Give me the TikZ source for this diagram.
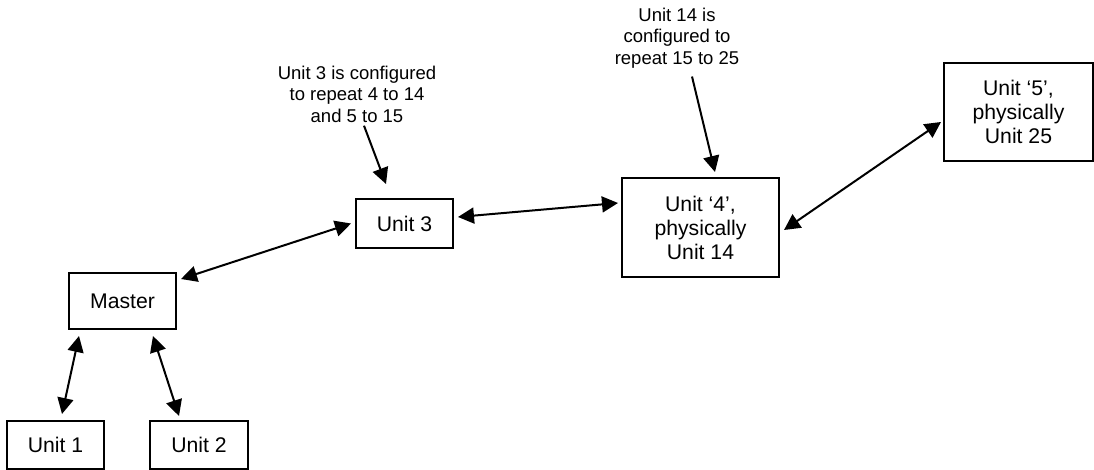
\documentclass[tikz,border=0pt]{standalone}
\usepackage{fontspec}
\setmainfont{Liberation Sans}
\usetikzlibrary{arrows.meta}
\newcommand{\boxfont}{\fontsize{10.6}{12}\selectfont}
\newcommand{\notefont}{\fontsize{9.25}{10.75}\selectfont}
\tikzset{
    unitbox/.style={draw, line width=1pt, align=center, font=\boxfont, inner sep=0pt},
    note/.style={align=center, font=\notefont, inner sep=0pt},
    conn/.style={<->, >={Triangle[length=8pt, width=8pt]}, line width=1pt},
    pointer/.style={->, >={Triangle[length=8pt, width=8pt]}, line width=1pt}
}
\begin{document}
\begin{tikzpicture}[x=0.5pt, y=-0.5pt]
\useasboundingbox (0,0) rectangle (1094,470);

\node (master) at (122.5,301) [unitbox, minimum width=53.5pt, minimum height=28pt] {Master};
\node (unit1) at (55.5,445) [unitbox, minimum width=48.5pt, minimum height=24pt] {Unit 1};
\node (unit2) at (199,445) [unitbox, minimum width=49pt, minimum height=24pt] {Unit 2};
\node (unit3) at (404.5,223.5) [unitbox, minimum width=48.5pt, minimum height=24.5pt] {Unit 3};
\node (unit4) at (700.5,227.5) [unitbox, minimum width=78.5pt, minimum height=49.5pt] {Unit `4',\\physically\\Unit 14};
\node (unit5) at (1018.5,112) [unitbox, minimum width=74.5pt, minimum height=49pt] {Unit `5',\\physically\\Unit 25};

\node (note3) at (357,94) [note] {Unit 3 is configured\\to repeat 4 to 14\\and 5 to 15};
\node (note14) at (677,38) [note] {Unit 14 is\\configured to\\repeat 15 to 25};

\draw[conn] ([shift={(11,6)}]master.south west) -- ([shift={(6.5,-6)}]unit1.north);
\draw[conn] ([shift={(-24,6)}]master.south east) -- ([shift={(30,-4)}]unit2.north west);
\draw[conn] ([shift={(4,7)}]master.north east) -- ([shift={(-4,0)}]unit3.west);
\draw[conn] ([shift={(4,-6.5)}]unit3.east) -- ([shift={(-3,-24.5)}]unit4.west);
\draw[conn] ([shift={(4,2.5)}]unit4.east) -- ([shift={(-2,10)}]unit5.west);

\draw[pointer] ([shift={(7,3)}]note3.south) -- ([shift={(-18.5,-14)}]unit3.north);
\draw[pointer] ([shift={(15,8)}]note14.south) -- ([shift={(14.5,-5)}]unit4.north);
\end{tikzpicture}
\end{document}
